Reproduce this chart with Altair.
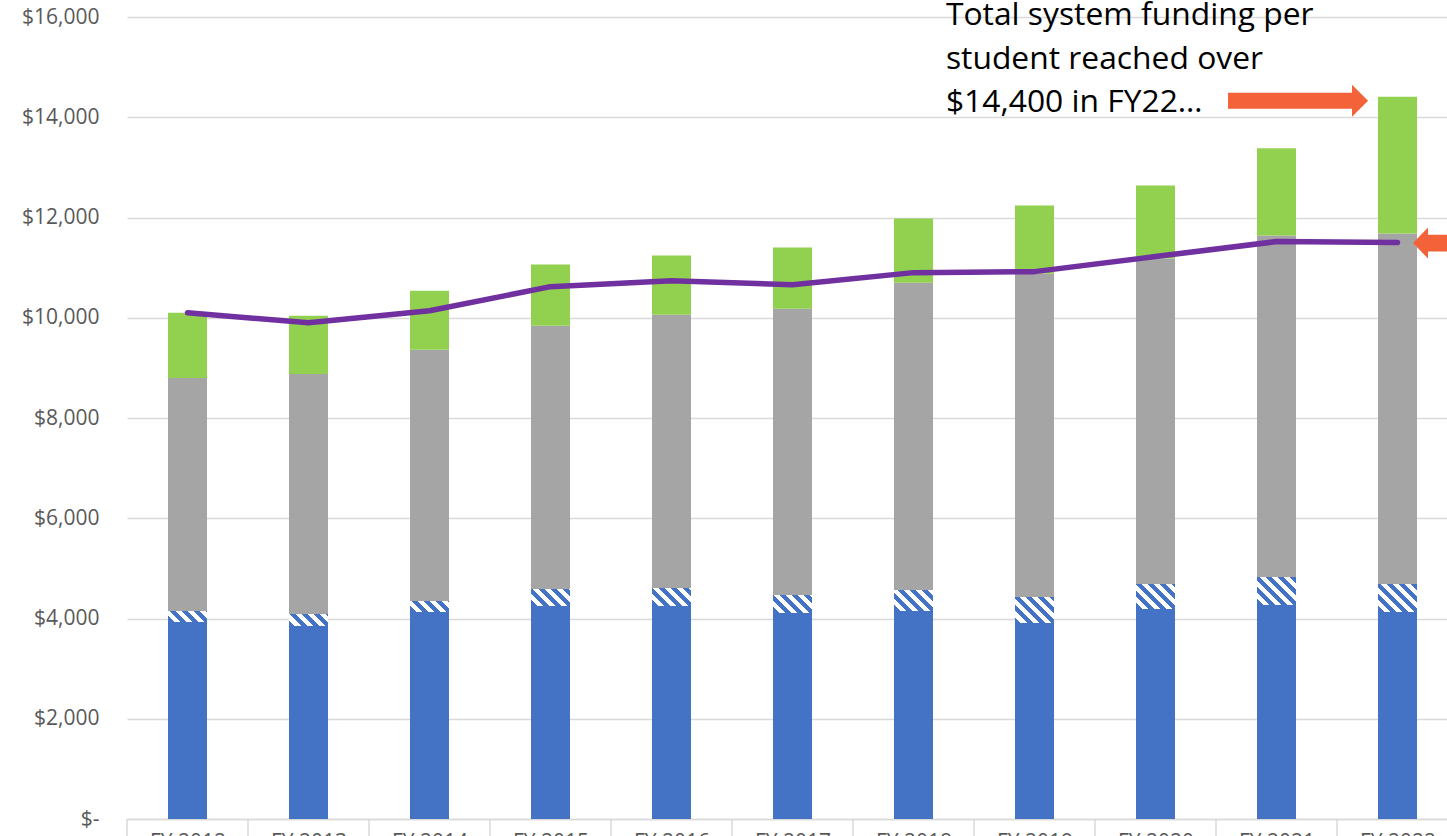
import math
import altair as alt
import pandas as pd

# ---------------- data ----------------
years = ["FY 2012", "FY 2013", "FY 2014", "FY 2015", "FY 2016", "FY 2017",
         "FY 2018", "FY 2019", "FY 2020", "FY 2021", "FY 2022"]
blue = [3930, 3850, 4130, 4250, 4250, 4110, 4150, 3910, 4190, 4270, 4130]
hatch = [220, 240, 220, 340, 360, 360, 420, 520, 500, 560, 560]
gray = [4650, 4790, 5010, 5250, 5450, 5710, 6130, 6450, 6490, 6810, 6990]
green = [1300, 1160, 1180, 1220, 1180, 1220, 1280, 1360, 1460, 1740, 2730]
line_vals = [10100, 9900, 10140, 10620, 10740, 10660, 10900, 10920, 11220, 11520, 11500]
y_ticks = [0, 2000, 4000, 6000, 8000, 10000, 12000, 14000, 16000]
note_lines = ["Total system funding per", "student reached over", "$14,400 in FY22\u2026"]

# ---------------- layout ----------------
W_PLOT, H_PLOT = 1320, 802
Y_MAX = 16000
STEP = 121.0
X_MIN = -0.5
X_MAX = X_MIN + W_PLOT / STEP
BAR_W = 39

C_BLUE, C_GRAY, C_GREEN = "#4472C4", "#A5A5A5", "#92D050"
C_LINE, C_ARROW = "#7030A0", "#F4623A"
C_GRID, C_LABEL = "#D9D9D9", "#595959"
FONT = "Open Sans"

idx = list(range(len(years)))
rows = []
for i in idx:
    base = 0
    for name, vals in [("Base", blue), ("Hatch", hatch), ("Mid", gray), ("Top", green)]:
        rows.append(dict(i=i, year=years[i], series=name, y0=base, y1=base + vals[i]))
        base += vals[i]
df = pd.DataFrame(rows)
df_line = pd.DataFrame({"i": idx, "value": line_vals})
bounds = [i - 0.5 for i in idx] + [idx[-1] + 0.5]
df_sep = pd.DataFrame({"b": bounds, "lo": [0] * len(bounds), "hi": [-700] * len(bounds)})

label_array = "[" + ",".join("'%s'" % y for y in years) + "]"

x_scale = alt.Scale(domain=[X_MIN, X_MAX], nice=False, zero=False, padding=0)
y_scale = alt.Scale(domain=[0, Y_MAX], nice=False, zero=True, padding=0)

x_axis = alt.Axis(values=idx, labelExpr=label_array + "[datum.value]", title=None,
                  grid=False, ticks=False, domainColor=C_GRID, domainWidth=1.5,
                  labelPadding=12, labelFlush=False, labelOverlap=False,
                  labelFontSize=21, labelColor=C_LABEL, labelFont=FONT)
y_axis = alt.Axis(values=y_ticks,
                  labelExpr="datum.value == 0 ? '$-' : '$' + format(datum.value, ',')",
                  title=None, domain=False, ticks=False, gridColor=C_GRID, gridWidth=1.5,
                  labelPadding=28, labelFontSize=21, labelColor=C_LABEL, labelFont=FONT)

# separators below the category axis
seps = alt.Chart(df_sep).mark_rule(color=C_GRID, strokeWidth=1.5).encode(
    x=alt.X("b:Q", scale=x_scale, axis=x_axis),
    y=alt.Y("lo:Q", scale=y_scale, axis=y_axis),
    y2="hi:Q",
)

solid = alt.Chart(df).transform_filter("datum.series != 'Hatch'").mark_bar(
    size=BAR_W, orient="vertical").encode(
    x=alt.X("i:Q", scale=x_scale),
    y=alt.Y("y0:Q", scale=y_scale),
    y2="y1:Q",
    color=alt.Color("series:N", scale=alt.Scale(domain=["Base", "Mid", "Top"],
                                                range=[C_BLUE, C_GRAY, C_GREEN]), legend=None),
)

# hatched (diagonal stripe) segments: one gradient per bar so stripes stay at 45 degrees
hatch_layers = []
PERIOD = 8.5
for i in idx:
    w = float(BAR_W)
    h = max(hatch[i] * H_PLOT / Y_MAX, 1.0)
    k = (w + h) / (w * w + h * h)
    D = (w + h) / math.sqrt(2)
    p = PERIOD / D
    stops = []
    j = 0
    while j * p < 1:
        a = j * p
        b = min(a + p / 2, 1.0)
        c = min(a + p, 1.0)
        stops += [alt.GradientStop(offset=a, color=C_BLUE), alt.GradientStop(offset=b, color=C_BLUE),
                  alt.GradientStop(offset=b, color="#FFFFFF"), alt.GradientStop(offset=c, color="#FFFFFF")]
        j += 1
    grad = alt.LinearGradient(gradient="linear", stops=stops, x1=0, y1=1, x2=k * w, y2=1 - k * h)
    hatch_layers.append(
        alt.Chart(df).transform_filter("datum.series == 'Hatch' && datum.i == %d" % i)
        .mark_bar(size=BAR_W, orient="vertical", fill=grad)
        .encode(x=alt.X("i:Q", scale=x_scale), y=alt.Y("y0:Q", scale=y_scale), y2="y1:Q")
    )

line = alt.Chart(df_line).mark_line(color=C_LINE, strokeWidth=5.5, strokeCap="round",
                                    strokeJoin="round").encode(
    x=alt.X("i:Q", scale=x_scale),
    y=alt.Y("value:Q", scale=y_scale),
)

note = alt.Chart(df_line.head(1)).mark_text(
    text=note_lines, align="left", baseline="alphabetic", fontSize=31.8, font=FONT,
    lineHeight=43.5, color="#000000").encode(
    x=alt.datum(6.268, scale=x_scale), y=alt.datum(15840, scale=y_scale))

ARROW_R = "M-1,-0.114 L0.771,-0.114 L0.771,-0.229 L1,0 L0.771,0.229 L0.771,0.114 L-1,0.114 Z"
ARROW_L = "M1,-0.12 L-0.786,-0.12 L-0.786,-0.222 L-1,0 L-0.786,0.222 L-0.786,0.12 L1,0.12 Z"

arrow1 = alt.Chart(df_line.head(1)).mark_point(
    shape=ARROW_R, size=19600, filled=True, color=C_ARROW, opacity=1, strokeWidth=0).encode(
    x=alt.datum(9.178, scale=x_scale), y=alt.datum(14330, scale=y_scale))
arrow2 = alt.Chart(df_line.head(1)).mark_point(
    shape=ARROW_L, size=19600, filled=True, color=C_ARROW, opacity=1, strokeWidth=0).encode(
    x=alt.datum(10.707, scale=x_scale), y=alt.datum(11490, scale=y_scale))

chart = alt.layer(seps, solid, *hatch_layers, line, note, arrow1, arrow2).properties(
    width=W_PLOT, height=H_PLOT,
    autosize=alt.AutoSizeParams(type="none"),
    padding={"left": 127, "top": 17, "right": 0, "bottom": 17},
    background="white",
).configure_view(strokeWidth=0)

chart.save("out.html", embed_options={"renderer": "svg", "actions": False})
